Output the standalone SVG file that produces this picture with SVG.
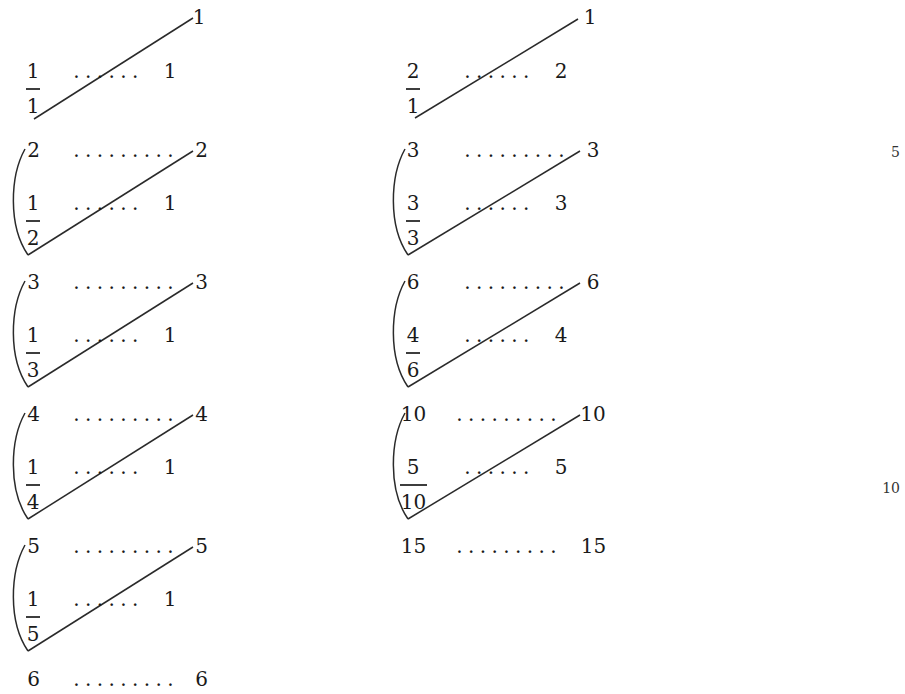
<svg xmlns="http://www.w3.org/2000/svg" width="905" height="694" viewBox="0 0 905 694">
<style>
text{font-family:"DejaVu Serif","Liberation Serif",serif;font-size:20px;fill:#1a1a1a}
.c{text-anchor:middle}
.d{letter-spacing:5.4px}
.pg{font-size:14px;text-anchor:end;fill:#333}
.bar{stroke:#1a1a1a;stroke-width:1.7}
.ln{stroke:#2a2a2a;stroke-width:1.5;fill:none}
</style>
<rect width="905" height="694" fill="#fff"/>
<g id="connectors">
<line class="ln" x1="34" y1="119" x2="193" y2="18"/>
<line class="ln" x1="28" y1="255" x2="193" y2="151"/>
<line class="ln" x1="28" y1="387" x2="193" y2="283"/>
<line class="ln" x1="28" y1="519" x2="193" y2="415"/>
<line class="ln" x1="28" y1="651" x2="193" y2="547"/>
<path class="ln" d="M25,149 C10,176 8,226 28,255"/>
<path class="ln" d="M25,281 C10,308 8,358 28,387"/>
<path class="ln" d="M25,413 C10,440 8,490 28,519"/>
<path class="ln" d="M25,545 C10,572 8,622 28,651"/>
<line class="ln" x1="415" y1="118" x2="578" y2="19"/>
<line class="ln" x1="408" y1="255" x2="580" y2="151"/>
<line class="ln" x1="408" y1="387" x2="580" y2="283"/>
<line class="ln" x1="408" y1="519" x2="580" y2="415"/>
<path class="ln" d="M405,149 C390,176 388,226 408,255"/>
<path class="ln" d="M405,281 C390,308 388,358 408,387"/>
<path class="ln" d="M405,413 C390,440 388,490 408,519"/>
</g>
<g id="L0">
<text class="c" x="199" y="24">1</text>
<text class="c" x="33" y="78">1</text>
<line class="bar" x1="26" y1="89" x2="40" y2="89"/>
<text class="c" x="33" y="113">1</text>
<text class="d" x="73.2" y="78">......</text>
<text class="c" x="170" y="78">1</text>
</g>
<g id="L1">
<text class="c" x="33.5" y="157">2</text>
<text class="d" x="73.2" y="157">.........</text>
<text class="c" x="201.5" y="157">2</text>
<text class="c" x="33" y="210">1</text>
<line class="bar" x1="26" y1="221" x2="40" y2="221"/>
<text class="c" x="33" y="245">2</text>
<text class="d" x="73.2" y="210">......</text>
<text class="c" x="170" y="210">1</text>
</g>
<g id="L2">
<text class="c" x="33.5" y="289">3</text>
<text class="d" x="73.2" y="289">.........</text>
<text class="c" x="201.5" y="289">3</text>
<text class="c" x="33" y="342">1</text>
<line class="bar" x1="26" y1="353" x2="40" y2="353"/>
<text class="c" x="33" y="377">3</text>
<text class="d" x="73.2" y="342">......</text>
<text class="c" x="170" y="342">1</text>
</g>
<g id="L3">
<text class="c" x="33.5" y="421">4</text>
<text class="d" x="73.2" y="421">.........</text>
<text class="c" x="201.5" y="421">4</text>
<text class="c" x="33" y="474">1</text>
<line class="bar" x1="26" y1="485" x2="40" y2="485"/>
<text class="c" x="33" y="509">4</text>
<text class="d" x="73.2" y="474">......</text>
<text class="c" x="170" y="474">1</text>
</g>
<g id="L4">
<text class="c" x="33.5" y="553">5</text>
<text class="d" x="73.2" y="553">.........</text>
<text class="c" x="201.5" y="553">5</text>
<text class="c" x="33" y="606">1</text>
<line class="bar" x1="26" y1="617" x2="40" y2="617"/>
<text class="c" x="33" y="641">5</text>
<text class="d" x="73.2" y="606">......</text>
<text class="c" x="170" y="606">1</text>
</g>
<g id="L5">
<text class="c" x="33.5" y="686">6</text>
<text class="d" x="73.2" y="686">.........</text>
<text class="c" x="201.5" y="686">6</text>
</g>
<g id="R0">
<text class="c" x="590" y="24">1</text>
<text class="c" x="413" y="78">2</text>
<line class="bar" x1="406" y1="89" x2="420" y2="89"/>
<text class="c" x="413" y="113">1</text>
<text class="d" x="464.2" y="78">......</text>
<text class="c" x="561" y="78">2</text>
</g>
<g id="R1">
<text class="c" x="413" y="157">3</text>
<text class="d" x="464.2" y="157">.........</text>
<text class="c" x="593" y="157">3</text>
<text class="c" x="413" y="210">3</text>
<line class="bar" x1="406" y1="221" x2="420" y2="221"/>
<text class="c" x="413" y="245">3</text>
<text class="d" x="464.2" y="210">......</text>
<text class="c" x="561" y="210">3</text>
</g>
<g id="R2">
<text class="c" x="413" y="289">6</text>
<text class="d" x="464.2" y="289">.........</text>
<text class="c" x="593" y="289">6</text>
<text class="c" x="413" y="342">4</text>
<line class="bar" x1="406" y1="353" x2="420" y2="353"/>
<text class="c" x="413" y="377">6</text>
<text class="d" x="464.2" y="342">......</text>
<text class="c" x="561" y="342">4</text>
</g>
<g id="R3">
<text class="c" x="413.5" y="421">10</text>
<text class="d" x="456.2" y="421">.........</text>
<text class="c" x="593" y="421">10</text>
<text class="c" x="413" y="474">5</text>
<line class="bar" x1="400" y1="485" x2="427" y2="485"/>
<text class="c" x="413.5" y="509">10</text>
<text class="d" x="464.2" y="474">......</text>
<text class="c" x="561" y="474">5</text>
</g>
<g id="R4">
<text class="c" x="413.5" y="553">15</text>
<text class="d" x="456.2" y="553">.........</text>
<text class="c" x="593.5" y="553">15</text>
</g>
<g id="pagenums">
<text class="pg" x="900" y="157">5</text>
<text class="pg" x="900" y="493">10</text>
</g>
</svg>
